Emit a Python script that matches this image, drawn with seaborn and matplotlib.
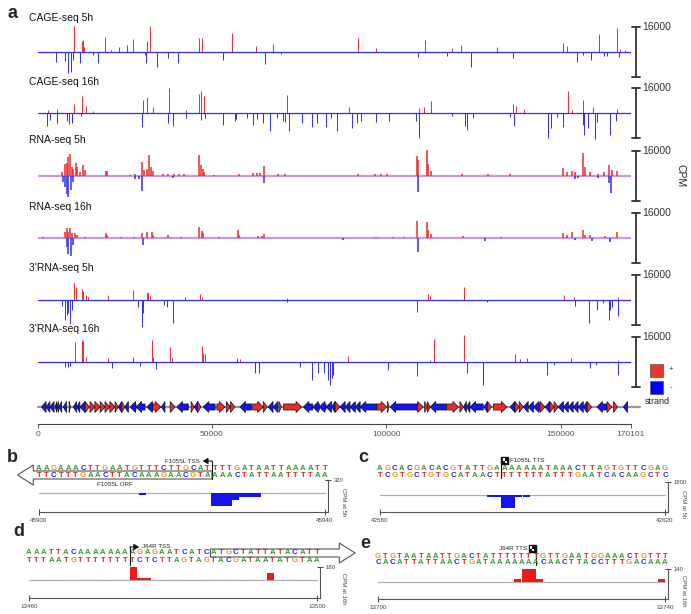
import matplotlib
matplotlib.use("Agg")
import matplotlib.pyplot as plt
from matplotlib.patches import Polygon, Rectangle
import numpy as np
import pandas as pd
import seaborn as sns

sns.set_theme(style="white")
plt.rcParams["font.family"] = ["Liberation Sans", "DejaVu Sans"]

W, H = 691, 614
GENOME_LEN = 170101
SCALE_CPM = 16000
RED = "#ee2a2a"
BLUE = "#2f2ff0"
BASE_COLORS = {"A": "#3a9a32", "T": "#e02424", "C": "#2626d8", "G": "#e8901e"}

# ---------------- panel a: genome wide tracks, (position kb, CPM) ----------------
cage5_plus = [(10.3, 16600), (12.6, 7000), (12.9, 7700), (13.3, 3000), (19.3, 9400), (21.0, 1200),
              (23.4, 3400), (25.5, 4300), (27.4, 8100), (31.4, 7300), (32.2, 16600), (46.2, 8700),
              (47.1, 8700), (55.7, 11900), (62.6, 4000), (67.4, 4900), (91.8, 8700), (97.0, 2300),
              (111.1, 7700), (118.8, 2500), (121.4, 4300), (131.7, 3000), (150.6, 6000), (151.9, 3800),
              (161.0, 11500), (166.1, 15600), (167.0, 2000), (168.5, 1500)]
cage5_minus = [(5.25, 6200), (7.8, 6000), (8.8, 13600), (9.5, 12600), (10.2, 5000), (12.1, 7000),
               (16.0, 2000), (17.2, 7200), (30.7, 2000), (31.1, 6800), (34.1, 9800), (37.3, 4000),
               (40.2, 7200), (53.2, 5100), (65.2, 7900), (69.7, 1500), (109.2, 3400), (117.3, 2600),
               (124.2, 9400), (136.3, 4000), (154.8, 6600), (156.3, 2000), (158.7, 5100), (162.5, 2500),
               (163.2, 2500), (166.8, 3000)]

cage16_plus = [(3.0, 1800), (5.6, 2800), (10.5, 6000), (12.8, 10700), (13.8, 4300), (16.0, 1000),
               (30.1, 8500), (31.4, 10200), (33.2, 3800), (37.6, 16000), (42.5, 2100), (46.2, 12400),
               (46.9, 13900), (47.7, 10700), (71.6, 11700), (89.3, 3600), (109.5, 3200), (110.9, 3800),
               (112.8, 7500), (136.3, 5800), (137.3, 4700), (139.6, 2800), (152.1, 14300), (153.2, 2000),
               (156.4, 8500), (159.4, 3800), (166.1, 2800)]
cage16_minus = [(2.6, 8500), (3.5, 4300), (5.4, 6400), (8.3, 5300), (9.0, 6800), (9.8, 6400), (12.5, 2000),
                (29.8, 9200), (37.5, 6400), (38.9, 8100), (42.6, 3200), (46.8, 4300), (48.0, 3000),
                (53.2, 7500), (56.5, 5300), (57.0, 4000), (59.9, 3000), (61.9, 7500), (62.8, 4000),
                (64.7, 6400), (66.5, 11700), (68.5, 3000), (70.3, 5300), (71.0, 5500), (72.2, 11700),
                (75.7, 6400), (78.6, 9200), (80.0, 6400), (82.7, 9200), (84.0, 3000), (85.8, 11700),
                (90.1, 9600), (91.5, 6400), (92.8, 5300), (97.0, 6000), (100.9, 5300), (108.6, 5000),
                (109.4, 16200), (118.8, 2000), (122.6, 8500), (123.1, 10700), (125.0, 3000), (135.5, 2500),
                (136.5, 8500), (146.3, 16200), (147.2, 9600), (149.0, 2500), (150.6, 9000), (156.4, 7500),
                (156.8, 14100), (157.8, 9600), (159.9, 16600), (160.5, 6000), (164.3, 14100), (166.0, 5300)]

rna5_plus = [(6.9, 2600), (7.8, 7900), (8.3, 8300), (8.8, 12200), (9.3, 14300), (9.75, 5800), (10.2, 4700),
             (11.0, 8300), (11.4, 5800), (12.1, 2600), (12.9, 6800), (13.6, 3600), (19.6, 3200), (20.0, 3000),
             (26.5, 900), (28.0, 1200), (29.8, 9000), (30.5, 3600), (31.3, 4700), (31.9, 13200), (32.4, 5800),
             (33.2, 3200), (36.0, 1500), (37.5, 1500), (39.0, 1500), (40.5, 1500), (42.0, 1200), (46.4, 13200),
             (46.8, 6800), (47.3, 4700), (47.7, 2600), (50.5, 900), (57.6, 1500), (61.8, 1900), (62.8, 1900),
             (63.7, 1900), (65.0, 6400), (69.0, 1000), (71.0, 1000), (92.0, 1500), (96.8, 1500), (98.4, 1500),
             (100.1, 1500), (108.7, 12800), (109.0, 10400), (111.6, 16800), (112.1, 7900), (112.8, 3200),
             (121.6, 1500), (129.3, 1000), (135.5, 1000), (150.8, 5100), (151.8, 2600), (153.2, 3000),
             (154.1, 2600), (156.4, 14900), (157.0, 5800), (158.5, 2600), (160.8, 1500), (162.3, 2600),
             (164.0, 6800), (164.7, 3600), (166.1, 3200)]
rna5_minus = [(7.4, 3800), (7.8, 7000), (8.3, 11300), (8.8, 13400), (9.5, 9200), (10.2, 3800), (27.9, 1700),
              (29.1, 1700), (29.8, 9600), (38.9, 1100), (65.0, 4500), (109.0, 10200), (154.1, 1700),
              (155.1, 1200), (160.8, 1200), (164.0, 4500), (164.4, 10900)]

rna16_plus = [(1.6, 900), (7.8, 4000), (8.3, 6200), (8.8, 3600), (9.3, 6600), (9.75, 3000), (10.7, 3000),
              (11.4, 1900), (13.5, 900), (19.6, 3000), (20.0, 2000), (24.0, 700), (27.5, 900), (29.8, 3000),
              (31.3, 4000), (32.7, 4000), (33.2, 2000), (37.5, 1900), (41.0, 800), (46.4, 7200), (47.0, 4500),
              (47.5, 3000), (52.0, 800), (57.4, 5300), (57.8, 2000), (63.3, 1500), (64.3, 1500), (65.0, 2300),
              (97.0, 900), (102.0, 900), (105.0, 800), (108.7, 10900), (111.6, 10200), (112.1, 4900),
              (112.8, 2800), (122.1, 1200), (133.0, 800), (150.8, 3200), (151.8, 2000), (153.2, 3800),
              (156.4, 4900), (157.0, 2000), (158.5, 2100), (162.8, 1500), (166.1, 3800)]
rna16_minus = [(8.3, 5500), (8.8, 10200), (9.5, 11500), (10.0, 4500), (30.1, 4500), (87.7, 1500),
               (109.0, 9000), (128.3, 1900), (154.1, 1500), (158.9, 1900), (164.2, 2600)]

rna3p5_plus = [(10.4, 11100), (11.0, 8100), (12.6, 6800), (13.1, 6000), (13.9, 3200), (14.5, 2100),
               (20.1, 3200), (27.3, 6400), (31.3, 5300), (31.7, 4300), (32.2, 2600), (42.3, 2100),
               (46.6, 3800), (47.0, 2100), (71.4, 1000), (112.1, 3800), (112.6, 2500), (122.4, 8100),
               (151.0, 3200), (153.7, 2100), (166.4, 2100)]
rna3p5_minus = [(6.9, 3800), (7.8, 12800), (8.3, 9600), (8.8, 8500), (9.3, 15400), (9.75, 6400),
                (28.9, 4300), (29.8, 17000), (30.3, 8500), (36.2, 3200), (37.0, 4300), (38.9, 14500),
                (71.4, 1200), (108.7, 7900), (128.8, 1500), (154.1, 3800), (158.1, 14500), (160.5, 6400),
                (162.2, 2100), (163.8, 12800), (164.3, 6400), (164.8, 4300), (166.4, 10000)]

rna3p16_plus = [(10.7, 13000), (12.6, 14100), (13.1, 13400), (13.9, 3400), (20.3, 2300), (27.4, 3400),
                (32.7, 14100), (33.2, 3400), (38.0, 9800), (38.4, 2300), (47.0, 10500), (47.5, 5500),
                (48.0, 5100), (57.1, 2300), (58.0, 1700), (89.1, 3600), (112.6, 1500), (113.8, 14700),
                (122.4, 17000), (136.9, 5100), (138.4, 1900), (140.3, 2600), (153.0, 2600), (166.4, 1500)]
rna3p16_minus = [(7.8, 3000), (8.8, 3000), (9.3, 2500), (21.4, 4000), (29.3, 2300), (33.9, 4700),
                 (62.3, 6800), (63.6, 6800), (75.3, 3000), (78.8, 11500), (80.5, 7200), (82.2, 7200),
                 (83.4, 11500), (83.9, 14700), (84.3, 10400), (84.8, 8300), (100.6, 4900), (108.7, 9200),
                 (123.1, 7000), (127.8, 14500), (146.0, 8500), (148.2, 2100), (158.5, 3800), (160.1, 2100),
                 (166.4, 8500)]

track_names = ["CAGE-seq 5h", "CAGE-seq 16h", "RNA-seq 5h", "RNA-seq 16h", "3'RNA-seq 5h", "3'RNA-seq 16h"]
track_plus = [cage5_plus, cage16_plus, rna5_plus, rna16_plus, rna3p5_plus, rna3p16_plus]
track_minus = [cage5_minus, cage16_minus, rna5_minus, rna16_minus, rna3p5_minus, rna3p16_minus]
track_kind = ["peak", "peak", "coverage", "coverage", "peak", "peak"]

# genes: (start kb, end kb, strand)
genes = [(1.1, 2.4, "-"), (2.4, 3.5, "-"), (3.5, 4.7, "-"), (5.0, 5.5, "-"), (5.5, 6.0, "-"), (6.0, 6.9, "-"),
         (7.3, 8.3, "-"), (9.0, 9.4, "+"), (10.2, 11.2, "-"), (11.2, 12.1, "-"), (12.1, 13.6, "-"),
         (13.6, 14.8, "+"), (15.0, 16.4, "+"), (16.4, 17.9, "+"), (17.9, 19.3, "+"), (19.3, 20.7, "+"),
         (20.7, 22.2, "+"), (22.2, 23.1, "+"), (23.1, 24.1, "-"), (24.1, 25.0, "+"), (25.0, 26.0, "-"),
         (26.5, 28.2, "-"), (28.2, 30.8, "-"), (31.3, 33.0, "-"), (33.0, 35.3, "+"), (35.5, 36.5, "-"),
         (38.0, 39.4, "+"), (39.9, 43.2, "-"), (44.0, 44.9, "+"), (44.9, 45.9, "-"), (45.9, 46.8, "+"),
         (47.5, 50.9, "-"), (51.4, 53.7, "+"), (54.1, 55.3, "+"), (55.3, 56.6, "+"), (58.0, 61.4, "-"),
         (61.7, 64.7, "+"), (64.7, 65.8, "+"), (66.1, 67.5, "-"), (67.5, 68.9, "-"), (69.2, 69.9, "+"),
         (70.5, 75.7, "+"), (76.2, 78.9, "-"), (78.9, 80.8, "-"), (80.8, 82.7, "-"), (82.7, 84.3, "-"),
         (84.3, 85.3, "-"), (85.3, 86.7, "+"), (86.7, 88.2, "-"), (88.2, 89.6, "-"), (89.6, 91.1, "-"),
         (91.1, 92.5, "-"), (92.5, 97.3, "-"), (97.3, 100.1, "+"), (100.4, 100.7, "+"), (101.1, 108.9, "-"),
         (108.9, 110.6, "+"), (111.0, 111.8, "+"), (111.8, 112.6, "+"), (112.6, 117.3, "-"),
         (117.3, 120.7, "+"), (121.1, 122.1, "+"), (122.1, 123.0, "-"), (123.0, 124.0, "-"),
         (124.0, 127.8, "-"), (128.0, 129.0, "-"), (129.0, 130.2, "+"), (130.7, 134.6, "+"),
         (135.5, 136.9, "-"), (136.9, 138.1, "+"), (138.1, 139.3, "+"), (139.3, 140.7, "-"),
         (140.7, 142.2, "-"), (142.2, 144.1, "-"), (144.1, 145.5, "+"), (145.5, 146.9, "-"),
         (146.9, 148.1, "+"), (148.1, 149.3, "+"), (149.3, 150.8, "-"), (150.8, 152.2, "-"),
         (152.2, 153.6, "-"), (153.6, 155.0, "-"), (155.0, 156.5, "-"), (156.5, 157.6, "-"),
         (157.6, 158.9, "+"), (160.4, 163.3, "-"), (163.3, 164.7, "+"), (165.2, 166.3, "+"), (168.0, 169.2, "-")]
genome_ticks = [0, 50000, 100000, 150000, 170101]

# ---------------- panels b-e: sequence close-ups ----------------
b_top = "AAGAAACTTGAATGTTTCTTGCATTTTGATAATTAAAATT"
b_bot = "TTCTTTGAACTTACAAAGAACGTAAAACTATTAATTTTAA"
b_cov_pos = [45914, 45924, 45925, 45926, 45927, 45928, 45929, 45930]
b_cov_val = [-40, -320, -320, -320, -170, -100, -100, -100]

c_top = "AGCACGACACGTATTGAAAAAAATAAACTTAGTGTTCGAG"
c_bot = "TCGTGCTGTGCATAACTTTTTTTATTTGAATCACAAGCTC"
c_cov_pos = [42595, 42596, 42597, 42598, 42599, 42600]
c_cov_val = [-250, -250, -1800, -1800, -250, -250]

d_top = "AAATTACAAAAAAAAGAGAATCATCATGCTATTATACATT"
d_bot = "TTTAATGTTTTTTTTCTCTTAGTAGTACGATAATATGTAA"
d_cov_pos = [13474, 13475, 13476, 13477, 13482, 13491, 13493, 13494]
d_cov_val = [180, 28, 30, 6, 5, 6, 100, -6]

e_top = "GTGTAATAATTGACTATTTTTTTGTTGAATGGAAACTGTTT"
e_bot = "CACATTATTAACTGATAAAAAAACAACTTACCTTTGACAAA"
e_cov_pos = [13717, 13718, 13719, 13720, 13721, 13722, 13723, 13724, 13739]
e_cov_val = [5, 5, 30, 140, 140, 30, 5, 5, 30]

fig = plt.figure(figsize=(W / 100, H / 100), dpi=100)


def add_px_axes(x0, y0, x1, y1):
    return fig.add_axes([x0 / W, 1 - y1 / H, (x1 - x0) / W, (y1 - y0) / H])


TX0, TX1 = 37.7, 630.7
track_base = [52, 113, 176, 238, 300, 362]
label_y = [18, 82, 140, 207, 268, 329]
bar_x = (636 - TX0) / (TX1 - TX0)
cap = 4 / (TX1 - TX0)

for i, name in enumerate(track_names):
    yb = track_base[i]
    ax = add_px_axes(TX0, yb - 25, TX1, yb + 25)
    ax.set_xlim(0, GENOME_LEN)
    ax.set_ylim(-SCALE_CPM, SCALE_CPM)
    ax.axis("off")
    plus = np.array(track_plus[i])
    minus = np.array(track_minus[i])
    if track_kind[i] == "coverage":
        ax.axhline(0, color="#c89ad8", lw=1.6, zorder=1)
        lw = 1.1
    else:
        lw = 0.7
    ax.vlines(plus[:, 0] * 1000, 0, plus[:, 1], color=RED, lw=lw, clip_on=False, zorder=2)
    ax.vlines(minus[:, 0] * 1000, 0, -minus[:, 1], color=BLUE, lw=lw, clip_on=False, zorder=2)
    if track_kind[i] != "coverage":
        ax.axhline(0, color=BLUE, lw=0.9, zorder=3)
    tr = ax.get_yaxis_transform()
    ax.plot([bar_x, bar_x], [-SCALE_CPM, SCALE_CPM], transform=tr, color="#333333", lw=1.3, clip_on=False)
    for yy in (-SCALE_CPM, SCALE_CPM):
        ax.plot([bar_x - cap, bar_x + cap], [yy, yy], transform=tr, color="#333333", lw=1.3, clip_on=False)
    ax.text(bar_x + 1.6 * cap, SCALE_CPM, str(SCALE_CPM), transform=tr, fontsize=7.5, color="#333333",
            va="center", ha="left")
    fig.text(29 / W, 1 - label_y[i] / H, name, fontsize=7.5, va="center", ha="left", color="#111111")

fig.text(7 / W, 1 - 14 / H, "a", fontsize=13, fontweight="bold", va="center", ha="left")
fig.text(680 / W, 1 - 176 / H, "CPM", fontsize=7.5, rotation=270, va="center", ha="center")

# gene map + genome axis
gax = add_px_axes(TX0, 400, TX1, 424)
gax.set_xlim(0, GENOME_LEN)
gax.set_ylim(-3.09, 1.27)
gax.plot([0, GENOME_LEN + 2600], [0, 0], color="#9a9a9a", lw=1.6, clip_on=False, zorder=1)
for s, e, strand in genes:
    s, e = s * 1000, e * 1000
    head = min(1600, e - s)
    body = 0.55
    if strand == "+":
        pts = [(s, -body), (e - head, -body), (e - head, -1), (e, 0), (e - head, 1), (e - head, body), (s, body)]
        col = RED
    else:
        pts = [(e, -body), (s + head, -body), (s + head, -1), (s, 0), (s + head, 1), (s + head, body), (e, body)]
        col = "#1414ee"
    gax.add_patch(Polygon(pts, closed=True, facecolor=col, edgecolor="#111111", lw=0.5, zorder=2,
                          clip_on=False))
for side in ("left", "right", "top"):
    gax.spines[side].set_visible(False)
gax.spines["bottom"].set_color("#444444")
gax.spines["bottom"].set_linewidth(0.8)
gax.set_yticks([])
gax.set_xticks(genome_ticks)
gax.set_xticklabels([str(t) for t in genome_ticks])
gax.tick_params(axis="x", bottom=True, direction="out", length=3, width=0.7, labelsize=6,
                colors="#555555", pad=2)
gax.patch.set_alpha(0)

# strand legend
fig.patches.append(Rectangle((650 / W, 1 - 377 / H), 13 / W, 13 / H, transform=fig.transFigure,
                             facecolor="#ee3333", edgecolor="#555555", lw=0.5))
fig.patches.append(Rectangle((650 / W, 1 - 394 / H), 13 / W, 13 / H, transform=fig.transFigure,
                             facecolor="#0000ff", edgecolor="#555555", lw=0.5))
fig.text(671 / W, 1 - 370 / H, "+", fontsize=5.5, va="center", ha="center")
fig.text(671 / W, 1 - 388 / H, "-", fontsize=5.5, va="center", ha="center")
fig.text(657 / W, 1 - 401 / H, "strand", fontsize=6.5, va="center", ha="center")


def draw_detail(letter, lxy, x0, x1, start, end, seq_top, seq_bot, row_y, cov_pos, cov_val,
                vmax, base_y, axis_y, cpm_label, label_px, color):
    ppb = (x1 - x0) / (end - start)
    sax = add_px_axes(x0, row_y[0] - 25, x1, row_y[1] + 12)
    sax.set_xlim(start, end)
    sax.set_ylim(row_y[1] + 12, row_y[0] - 25)
    sax.axis("off")
    for seq, yy in zip((seq_top, seq_bot), row_y):
        n = len(seq)
        for i, ch in enumerate(seq):
            sax.text(start + i * (end - start) / (n - 1), yy, ch, color=BASE_COLORS[ch], fontsize=5.6,
                     fontweight="bold", ha="center", va="center", clip_on=False)

    cax = add_px_axes(x0, base_y - 13, x1 + 3, axis_y)
    df = pd.DataFrame({"pos": np.array(cov_pos) + 0.5, "cpm": cov_val})
    sns.barplot(data=df, x="pos", y="cpm", native_scale=True, width=1, color=color, saturation=1,
                errorbar=None, linewidth=0, orient="x", ax=cax)
    cax.plot([start, end], [0, 0], color="#b0b0b0", lw=0.9, zorder=0)
    cax.set_xlim(start, end + 3 / ppb)
    cax.set_ylim(-vmax * (axis_y - base_y) / 13, vmax)
    cax.spines["top"].set_visible(False)
    cax.spines["left"].set_visible(False)
    for side in ("bottom", "right"):
        cax.spines[side].set_color("#555555")
        cax.spines[side].set_linewidth(0.8)
    cax.set_xticks([start, end])
    cax.set_xticklabels([str(start), str(end)])
    cax.set_yticks([vmax])
    cax.set_yticklabels([str(vmax)])
    cax.yaxis.tick_right()
    cax.tick_params(axis="x", bottom=True, direction="inout", length=5, width=0.7, labelsize=4.5,
                    colors="#444444", pad=1.5)
    cax.tick_params(axis="y", right=True, left=False, labelright=True, labelleft=False, direction="inout",
                    length=5, width=0.7, labelsize=4.2, colors="#444444", pad=1.5)
    cax.set_xlabel("")
    cax.set_ylabel("")
    frac_y = (axis_y - (base_y + 9)) / (axis_y - base_y + 13)
    cax.text((label_px - x0) / (x1 + 3 - x0), frac_y, cpm_label, transform=cax.transAxes, rotation=270,
             fontsize=4.3, color="#444444", ha="center", va="center", clip_on=False)
    cax.patch.set_alpha(0)
    fig.text(lxy[0] / W, 1 - lxy[1] / H, letter, fontsize=13, fontweight="bold", va="center", ha="left")
    return sax, cax, ppb


def tss_marker(ax, x, y_top, y_bot, label, direction):
    ax.plot([x, x], [y_bot, y_top], color="#111111", lw=0.8, clip_on=False)
    ax.annotate("", xy=(x + 1.3 * direction, y_top), xytext=(x, y_top),
                arrowprops=dict(arrowstyle="-|>,head_length=0.25,head_width=0.15", color="#111111", lw=0.8,
                                shrinkA=0, shrinkB=0), annotation_clip=False)
    ax.text(x + 1.7 * direction, y_top, label, fontsize=4.5, va="center",
            ha="left" if direction > 0 else "right", clip_on=False)


def tts_marker(ax, x, y_top, y_bot, label, side, ppb):
    ax.plot([x, x], [y_bot, y_top], color="#111111", lw=0.8, clip_on=False)
    w = 7 / ppb
    x0 = x if side > 0 else x - w
    ax.add_patch(Rectangle((x0, y_top - 3), w, 7, facecolor="#111111", edgecolor="#111111", clip_on=False))
    ax.add_patch(Rectangle((x0 + 0.2 * w, y_top - 1.8), 0.6 * w, 4.6, facecolor="white", lw=0, clip_on=False))
    ax.add_patch(Rectangle((x0 + 0.5 * w, y_top - 1.8), 0.3 * w, 2.3, facecolor="#111111", lw=0, clip_on=False))
    ax.add_patch(Rectangle((x0 + 0.2 * w, y_top + 0.5), 0.3 * w, 2.3, facecolor="#111111", lw=0, clip_on=False))
    if side > 0:
        ax.text(x + w + 2 / ppb, y_top, label, fontsize=4.5, va="center", ha="left", clip_on=False)
    else:
        ax.text(x - w - 2 / ppb, y_top, label, fontsize=4.5, va="center", ha="right", clip_on=False)


def orf_box(ax, x_from, x_to, yc, head):
    d = 1 if x_to > x_from else -1
    hx = x_to - d * head
    pts = [(x_from, yc - 4), (hx, yc - 4), (hx, yc - 10), (x_to, yc), (hx, yc + 10), (hx, yc + 4),
           (x_from, yc + 4)]
    ax.add_patch(Polygon(pts, closed=True, facecolor="none", edgecolor="#555555", lw=0.8, clip_on=False))


# b
sax, cax, ppb = draw_detail("b", (7, 458), 39, 325, 45900, 45940, b_top, b_bot, (468, 475), b_cov_pos,
                            b_cov_val, 320, 493, 512, "CPM at 5h", 343, "#1414ee")
orf_box(sax, 45924.2, 45897.0, 475, 2.2)
tss_marker(sax, 45924.2, 461, 479, "F1055L TSS", -1)
sax.text(45910.6, 484, "F1055L ORF", fontsize=4.5, ha="center", va="center", clip_on=False)

# c
sax, cax, ppb = draw_detail("c", (358, 458), 380, 665, 42580, 42620, c_top, c_bot, (468, 475), c_cov_pos,
                            c_cov_val, 1800, 495, 512, "CPM at 5h", 684, "#1414ee")
tts_marker(sax, 42597, 460, 478, "F1055L TTS", 1, ppb)

# d
sax, cax, ppb = draw_detail("d", (13, 532), 29, 317, 13460, 13500, d_top, d_bot, (553, 560), d_cov_pos,
                            d_cov_val, 180, 580, 598, "CPM at 16h", 344, "#ee1a1a")
orf_box(sax, 13485.2, 13505.3, 553, 2.2)
tss_marker(sax, 13474, 547, 565, "J64R TSS", 1)

# e
sax, cax, ppb = draw_detail("e", (360, 543), 378, 665, 13700, 13740, e_top, e_bot, (556, 563), e_cov_pos,
                            e_cov_val, 140, 582, 599, "CPM at 16h", 684, "#ee1a1a")
tts_marker(sax, 13722, 548, 565, "J64R TTS", -1, ppb)

fig.savefig("out.png", dpi=100)
